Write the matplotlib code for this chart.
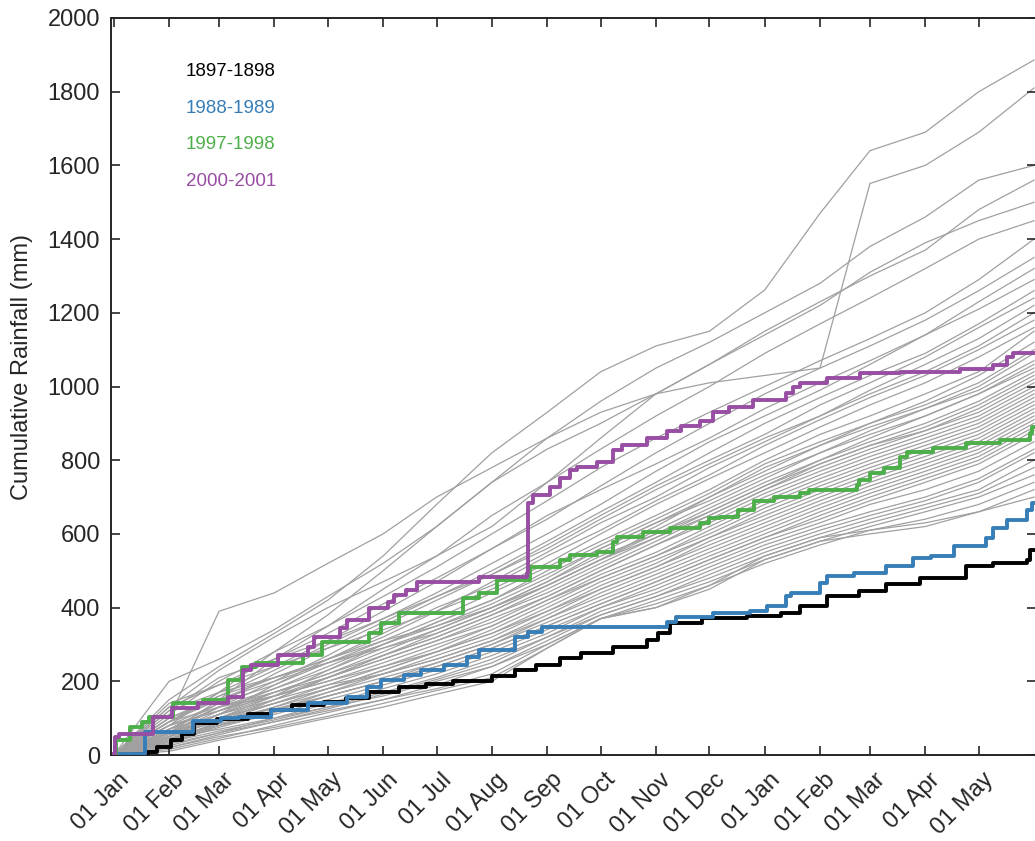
import matplotlib
matplotlib.use('Agg')
import matplotlib.pyplot as plt
from matplotlib.transforms import ScaledTranslation

# dias desde el 01 Jan (eje x)
dias_mes = [0, 31, 59, 90, 120, 151, 181, 212, 243, 273, 304, 334, 365, 396, 424, 455, 485, 516]
etiquetas_mes = ['01 Jan', '01 Feb', '01 Mar', '01 Apr', '01 May', '01 Jun', '01 Jul', '01 Aug',
                 '01 Sep', '01 Oct', '01 Nov', '01 Dec', '01 Jan', '01 Feb', '01 Mar', '01 Apr', '01 May']

gris_extremos = [
    [0, 150, 240, 330, 420, 540, 680, 820, 930, 1040, 1110, 1150, 1262, 1470, 1640, 1690, 1800, 1886],
    [0, 100, 390, 440, 520, 600, 700, 780, 860, 930, 980, 1010, 1030, 1050, 1551, 1600, 1690, 1810],
    [0, 200, 260, 340, 430, 520, 620, 740, 860, 960, 1050, 1120, 1200, 1280, 1380, 1460, 1560, 1600],
    [0, 90, 170, 280, 380, 500, 620, 740, 830, 900, 980, 1060, 1150, 1230, 1300, 1370, 1480, 1560],
    [0, 130, 230, 320, 400, 470, 540, 620, 740, 860, 980, 1060, 1140, 1220, 1310, 1390, 1450, 1500],
    [0, 60, 150, 260, 350, 450, 540, 650, 740, 830, 920, 1000, 1090, 1170, 1240, 1320, 1400, 1450],
]
gris_altos = [
    [0, 110, 200, 280, 350, 430, 510, 600, 690, 780, 860, 930, 1000, 1070, 1130, 1200, 1290, 1400],
    [0, 130, 190, 260, 330, 410, 480, 560, 640, 730, 820, 900, 980, 1050, 1110, 1180, 1260, 1350],
    [0, 80, 170, 240, 310, 390, 470, 560, 650, 720, 790, 860, 940, 1010, 1070, 1140, 1230, 1320],
    [0, 100, 160, 230, 300, 370, 440, 520, 600, 680, 770, 850, 920, 990, 1060, 1140, 1210, 1290],
    [0, 70, 140, 220, 290, 360, 430, 500, 580, 660, 740, 820, 900, 970, 1030, 1090, 1170, 1260],
    [0, 120, 210, 260, 310, 370, 430, 490, 570, 650, 730, 800, 870, 950, 1010, 1080, 1160, 1240],
    [0, 60, 130, 200, 270, 350, 420, 490, 560, 640, 720, 790, 860, 920, 990, 1060, 1130, 1220],
    [0, 90, 150, 210, 260, 320, 390, 470, 550, 630, 700, 780, 850, 920, 980, 1040, 1110, 1200],
    [0, 50, 110, 190, 260, 330, 400, 460, 540, 610, 690, 760, 840, 910, 970, 1030, 1100, 1180],
    [0, 140, 190, 240, 290, 340, 390, 450, 520, 600, 680, 750, 820, 890, 950, 1010, 1080, 1160],
]
gris_medio_alto = [
    [0, 80, 140, 190, 250, 310, 370, 440, 510, 580, 650, 720, 800, 870, 920, 980, 1040, 1150],
    [0, 60, 120, 180, 240, 300, 360, 420, 500, 570, 640, 710, 790, 850, 900, 960, 1030, 1120],
    [0, 100, 150, 200, 250, 300, 350, 410, 480, 560, 630, 700, 770, 840, 900, 950, 1010, 1100],
    [0, 40, 100, 160, 230, 300, 360, 420, 490, 560, 630, 690, 760, 820, 880, 940, 1000, 1090],
    [0, 70, 130, 180, 230, 290, 340, 400, 470, 550, 620, 700, 780, 840, 890, 940, 990, 1070],
    [0, 90, 160, 210, 260, 310, 350, 400, 460, 530, 610, 680, 750, 820, 870, 920, 980, 1060],
    [0, 50, 110, 170, 220, 280, 340, 400, 470, 540, 600, 670, 740, 800, 860, 920, 980, 1050],
    [0, 120, 170, 210, 250, 290, 330, 390, 460, 530, 590, 660, 730, 800, 850, 900, 960, 1040],
    [0, 60, 100, 150, 210, 270, 330, 390, 460, 530, 600, 660, 730, 790, 840, 890, 950, 1030],
    [0, 80, 120, 170, 220, 270, 320, 380, 450, 520, 590, 650, 720, 790, 840, 880, 940, 1020],
    [0, 30, 90, 150, 210, 270, 320, 380, 440, 510, 580, 650, 720, 780, 830, 880, 930, 1010],
    [0, 70, 130, 170, 210, 260, 310, 370, 430, 500, 570, 640, 710, 770, 820, 870, 920, 1000],
]
gris_medio_bajo = [
    [0, 60, 110, 160, 210, 260, 310, 360, 430, 500, 570, 630, 700, 760, 810, 860, 910, 990],
    [0, 80, 120, 160, 200, 250, 300, 350, 420, 490, 550, 620, 690, 750, 800, 850, 900, 980],
    [0, 40, 90, 140, 190, 240, 290, 350, 420, 480, 540, 610, 680, 740, 790, 840, 890, 970],
    [0, 50, 100, 140, 180, 230, 280, 340, 410, 480, 540, 600, 670, 730, 780, 830, 880, 960],
    [0, 90, 130, 160, 200, 240, 280, 330, 400, 470, 530, 590, 660, 720, 770, 820, 870, 950],
    [0, 30, 80, 130, 180, 230, 280, 330, 390, 460, 520, 590, 650, 710, 760, 810, 860, 940],
    [0, 60, 100, 140, 180, 220, 270, 320, 390, 450, 510, 580, 640, 700, 750, 800, 850, 930],
    [0, 70, 110, 150, 190, 220, 260, 310, 380, 450, 510, 570, 630, 690, 740, 790, 840, 920],
    [0, 45, 85, 120, 170, 220, 260, 310, 370, 440, 500, 560, 620, 680, 730, 780, 830, 910],
    [0, 55, 90, 130, 170, 210, 250, 300, 370, 430, 490, 550, 610, 670, 720, 770, 820, 900],
    [0, 35, 75, 115, 160, 200, 250, 300, 360, 420, 480, 540, 600, 660, 710, 760, 810, 890],
    [0, 65, 95, 125, 160, 200, 240, 290, 350, 410, 470, 530, 590, 650, 700, 750, 800, 880],
]
gris_bajos = [
    [0, 40, 80, 120, 160, 200, 240, 290, 350, 410, 470, 530, 590, 640, 690, 740, 790, 870],
    [0, 50, 80, 110, 150, 190, 230, 280, 340, 400, 460, 520, 580, 630, 680, 720, 770, 850],
    [0, 25, 60, 100, 140, 180, 220, 270, 330, 400, 450, 510, 570, 620, 660, 700, 750, 830],
    [0, 35, 65, 95, 130, 170, 210, 260, 320, 390, 440, 500, 560, 610, 650, 690, 740, 820],
    [0, 20, 55, 90, 125, 165, 205, 250, 320, 380, 430, 490, 550, 600, 640, 680, 720, 800],
    [0, 45, 70, 100, 130, 160, 200, 240, 310, 380, 430, 480, 540, 590, 630, 670, 710, 780],
    [0, 15, 45, 80, 115, 150, 190, 240, 300, 370, 420, 470, 530, 580, 620, 660, 700, 760],
    [0, 30, 60, 90, 120, 150, 180, 220, 300, 370, 410, 460, 520, 570, 610, 640, 680, 740],
    [0, 20, 50, 75, 105, 140, 175, 210, 290, 370, 400, 450, 530, 580, 600, 620, 660, 720],
    [0, 10, 40, 70, 100, 130, 165, 200, 290, 370, 400, 460, 540, 590, 610, 630, 660, 700],
]

# anos destacados (dia, lluvia acumulada en mm)
dias_1897 = [0, 12, 19, 24, 32, 38, 45, 58, 75, 88, 100, 118, 130, 143, 160, 175, 190, 212, 225,
             237, 250, 262, 280, 299, 305, 312, 330, 355, 374, 385, 400, 418, 433, 452, 478, 493,
             512, 514, 518]
lluvia_1897 = [0, 3, 9, 22, 40, 58, 86, 99, 112, 122, 136, 145, 154, 172, 185, 192, 200, 215, 230,
               245, 262, 276, 294, 312, 330, 357, 372, 378, 386, 404, 431, 445, 463, 481, 512, 521,
               530, 557, 557]

dias_1988 = [0, 2, 17.5, 44.6, 60, 70, 88, 109, 131, 142, 150, 163, 172, 185, 198, 205, 225, 232,
             240, 310, 315, 336, 357, 366, 377, 380, 396, 400, 415, 433, 448, 458, 471, 489, 493,
             501, 512, 515, 518]
lluvia_1988 = [0, 4, 63, 91, 100, 104, 122, 140, 158, 185, 203, 216, 230, 245, 267, 285, 321, 335,
               348, 362, 375, 384, 390, 404, 431, 440, 467, 485, 494, 512, 535, 539, 566, 589, 616,
               638, 666, 684, 684]

dias_1997 = [0, 1.3, 9, 15.6, 20, 33, 50, 64, 72, 80, 106, 116.7, 143, 150, 160, 196, 205, 215,
             233.4, 250, 256, 270.8, 280, 282, 297, 312, 328.7, 334, 340, 350, 358.8, 370, 385,
             390, 416.6, 418, 424, 432, 440.8, 444.6, 459.5, 478, 497, 513.8, 515, 518]
lluvia_1997 = [0, 40, 77, 90, 104, 140, 150, 203, 239, 250, 271, 307, 331, 358, 384, 425, 439, 474,
               510, 528, 542, 551, 579, 592, 606, 615, 629, 642, 647, 665, 688, 700, 711,
               720, 733, 747, 765, 778, 810, 823, 832, 846, 855, 873, 890, 890]

dias_2000 = [0, 0.7, 3, 22, 32.5, 47, 64, 72.6, 77, 92, 109, 112, 127, 131, 143, 154, 157, 164, 170,
             205, 231.5, 232.4, 235, 244.6, 250, 255.8, 260, 270.8, 280, 285, 298.8, 310, 318,
             328.7, 336, 345, 358.6, 377, 381, 385, 399.7, 418.4, 440.8, 474.5, 493, 500.6, 504, 518]
lluvia_2000 = [4, 50, 58, 104, 127, 140, 158, 231, 245, 271, 294, 321, 344, 367, 398, 416, 434, 447,
               470, 484, 493, 683, 706, 728, 751, 774, 782, 796, 828, 841, 860, 878, 892,
               906, 932, 945, 963, 982, 1000, 1009, 1022, 1036, 1040, 1047, 1058, 1081, 1090, 1090]

nombres = ['1897-1898', '1988-1989', '1997-1998', '2000-2001']
colores = ['black', '#377eb8', '#4daf4a', '#984ea3']

plt.rcParams['font.family'] = ['Liberation Sans', 'DejaVu Sans']
oscuro = '#262626'

fig = plt.figure(figsize=(10.35, 8.41), dpi=100)
ax = fig.add_axes([111 / 1035, 86 / 841, 925 / 1035, 737 / 841])

# todos los anos en gris
for grupo in [gris_extremos, gris_altos, gris_medio_alto, gris_medio_bajo, gris_bajos]:
    for fila in grupo:
        ax.plot(dias_mes, fila, color='#a0a0a0', lw=0.9, zorder=1)

# anos destacados encima
destacados = [(dias_1897, lluvia_1897), (dias_1988, lluvia_1988),
              (dias_1997, lluvia_1997), (dias_2000, lluvia_2000)]
for (d, v), c in zip(destacados, colores):
    ax.plot(d, v, drawstyle='steps-post', color=c, lw=2.8, zorder=3)

# textos de la leyenda
for i, (nombre, c) in enumerate(zip(nombres, colores)):
    ax.text(0.081, 0.9271 - i * 0.0497, nombre, color=c, fontsize=13.5,
            transform=ax.transAxes, va='center', ha='left')

ax.set_xlim(-1.57, 517.1)
ax.set_ylim(0, 2000)
ax.set_yticks(range(0, 2001, 200))
ax.set_xticks(dias_mes[:-1])
ax.set_xticklabels(etiquetas_mes, rotation=45, ha='right', va='top', rotation_mode='anchor')

ax.tick_params(direction='in', length=6.5, width=1.2, top=True, right=True,
               colors=oscuro, labelsize=17)
ax.tick_params(axis='y', pad=8)
ax.tick_params(axis='x', pad=10)
desplaza = ScaledTranslation(4 / 100, 0, fig.dpi_scale_trans)
for lab in ax.get_xticklabels():
    lab.set_transform(lab.get_transform() + desplaza)

for s in ax.spines.values():
    s.set_linewidth(1.4)
    s.set_color(oscuro)

ax.set_ylabel('Cumulative Rainfall (mm)', fontsize=17, color=oscuro)
ax.yaxis.set_label_coords(-0.0845, 0.526)

fig.savefig('out.png', dpi=100)
